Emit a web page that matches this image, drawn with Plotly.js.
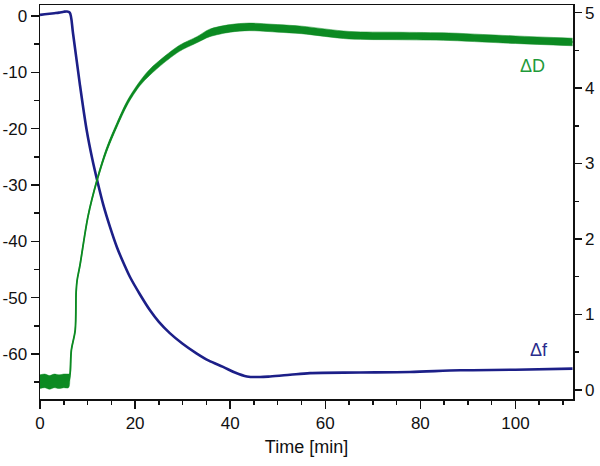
<!DOCTYPE html>
<html>
<head>
<meta charset="utf-8">
<script src="https://cdn.plot.ly/plotly-3.0.1.min.js"></script>
<style>html,body{margin:0;padding:0;background:#fff;}#chart{width:600px;height:466px;}</style>
</head>
<body>
<div id="chart"></div>
<script>
// Δf (left axis, Hz) vs time [min]
const tF = [0, 1, 2, 3, 4, 5, 5.6, 6.25, 6.95, 8.36, 9.8, 11.0, 12.0, 13.3, 14.7, 16.2, 17.8, 18.9, 21, 23.1, 25, 27.3, 30, 32.9, 35.5, 38.5, 41, 43.5, 46.3, 48.4, 52.6, 56.8, 67.3, 77.8, 88.4, 100, 112];
const dF = [0.2, 0.3, 0.4, 0.5, 0.6, 0.75, 0.8, 0.6, -3.1, -12, -20.2, -25.4, -29.1, -33.5, -37.4, -41.1, -44.3, -46.3, -49.4, -52.2, -54.3, -56.3, -58.2, -59.9, -61.2, -62.3, -63.3, -64.0, -64.1, -64.0, -63.7, -63.4, -63.3, -63.2, -62.9, -62.8, -62.6];

// ΔD (right axis, 1e-6) vs time [min], with half-width of the noise band
const tD = [0, 1, 2, 3, 4, 5, 6.0, 6.3, 6.6, 7.4, 7.6, 7.8, 8.4, 10.1, 12.0, 14.0, 16.1, 18.5, 21, 23.1, 26, 28.7, 30, 33, 35.7, 40, 44, 50, 55, 65, 75, 86, 93, 100, 112];
const dD = [0.11, 0.12, 0.10, 0.12, 0.11, 0.12, 0.12, 0.2, 0.53, 0.79, 1.3, 1.45, 1.65, 2.3, 2.78, 3.18, 3.50, 3.82, 4.06, 4.21, 4.37, 4.50, 4.55, 4.64, 4.73, 4.79, 4.81, 4.79, 4.77, 4.70, 4.69, 4.68, 4.66, 4.64, 4.61];
const dDnoise = [0.09, 0.09, 0.09, 0.09, 0.09, 0.09, 0.09, 0.01, 0.01, 0.01, 0.01, 0.01, 0.02, 0.02, 0.02, 0.03, 0.03, 0.03, 0.03, 0.04, 0.04, 0.04, 0.04, 0.04, 0.05, 0.05, 0.05, 0.05, 0.05, 0.05, 0.05, 0.05, 0.05, 0.05, 0.05];

const leftTicks = [0, -10, -20, -30, -40, -50, -60];
const leftTickText = ['0', '-10', '-20', '-30', '-40', '-50', '-60'];
const rightTicks = [0, 1, 2, 3, 4, 5];
const xTicks = [0, 20, 40, 60, 80, 100];

const blue = '#1c1f88';
const green = '#0c8a22';

const dDlow = dD.map((v, i) => v - dDnoise[i]);
const dDhigh = dD.map((v, i) => v + dDnoise[i]);

const sm = 0.9;
const traces = [
  {x: tD, y: dDlow, yaxis: 'y2', mode: 'lines', line: {color: green, width: 0.5, shape: 'spline', smoothing: sm}, hoverinfo: 'skip', showlegend: false},
  {x: tD, y: dDhigh, yaxis: 'y2', mode: 'lines', fill: 'tonexty', fillcolor: green, line: {color: green, width: 0.5, shape: 'spline', smoothing: sm}, hoverinfo: 'skip', showlegend: false},
  {x: tD, y: dD, yaxis: 'y2', mode: 'lines', line: {color: green, width: 1.8, shape: 'spline', smoothing: sm}, name: 'ΔD', showlegend: false},
  {x: tF, y: dF, yaxis: 'y', mode: 'lines', line: {color: blue, width: 2.6, shape: 'spline', smoothing: sm}, name: 'Δf', showlegend: false}
];

const fnt = {family: '"Liberation Sans", Arial, sans-serif', size: 17, color: '#111'};

const layout = {
  width: 600, height: 466,
  margin: {l: 40, r: 27, t: 5, b: 67},
  paper_bgcolor: '#fff', plot_bgcolor: '#fff',
  font: fnt,
  showlegend: false,
  xaxis: {
    range: [0, 112.1], tickmode: 'array', tickvals: xTicks,
    ticks: 'outside', ticklen: 8, tickwidth: 1.5, tickcolor: '#111',
    showline: true, linewidth: 1.5, linecolor: '#111', mirror: true,
    showgrid: false, zeroline: false,
    minor: {dtick: 5, tick0: 0, ticks: 'outside', ticklen: 4, tickwidth: 1.5, tickcolor: '#111', showgrid: false},
    tickfont: fnt,
    title: {text: 'Time [min]', font: {family: fnt.family, size: 18, color: '#111'}, standoff: 8}
  },
  yaxis: {
    range: [-68.0, 1.95], tickmode: 'array', tickvals: leftTicks, ticktext: leftTickText,
    ticks: 'outside', ticklen: 8, tickwidth: 1.5, tickcolor: '#111',
    showline: true, linewidth: 1.5, linecolor: '#111',
    showgrid: false, zeroline: false,
    minor: {dtick: 5, tick0: 0, ticks: 'outside', ticklen: 5, tickwidth: 1.5, tickcolor: '#111', showgrid: false},
    tickfont: fnt
  },
  yaxis2: {
    overlaying: 'y', side: 'right',
    range: [-0.12, 5.1], tickmode: 'array', tickvals: rightTicks,
    ticks: 'outside', ticklen: 7, tickwidth: 1.5, tickcolor: '#111',
    showline: true, linewidth: 1.5, linecolor: '#111',
    showgrid: false, zeroline: false,
    minor: {dtick: 0.5, tick0: 0, ticks: 'outside', ticklen: 4, tickwidth: 1.5, tickcolor: '#111', showgrid: false},
    tickfont: fnt
  },
  annotations: [
    {x: 103.5, y: 4.29, xref: 'x', yref: 'y2', text: 'ΔD', showarrow: false, font: {family: fnt.family, size: 18, color: '#1f9a3a'}},
    {x: 104.9, y: -59.3, xref: 'x', yref: 'y', text: 'Δf', showarrow: false, font: {family: fnt.family, size: 18, color: '#2a2c8c'}}
  ]
};

Plotly.newPlot('chart', traces, layout, {displayModeBar: false, staticPlot: true});
</script>
</body>
</html>
